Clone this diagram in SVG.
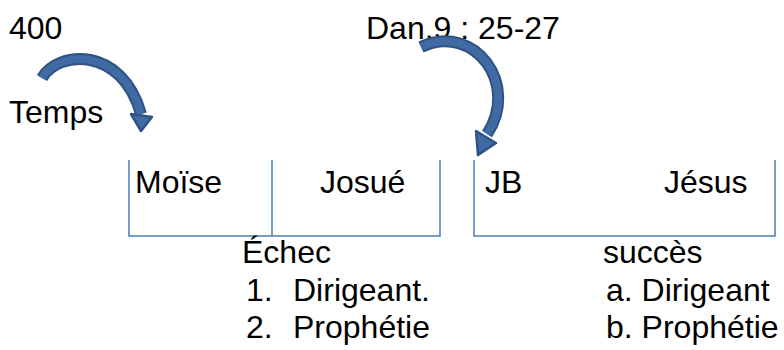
<svg xmlns="http://www.w3.org/2000/svg" width="784" height="350" viewBox="0 0 784 350">
<style>
text{font-family:"Liberation Sans",Arial,sans-serif;font-size:32px;fill:#000}
.br{fill:none;stroke:#4a7ebb;stroke-width:1.5}
.ao{fill:none;stroke:#2f5283;stroke-width:12}
.ai{fill:none;stroke:#3f6aa3;stroke-width:8}
.ah{fill:#3f6aa3;stroke:#2f5283;stroke-width:2.5;stroke-linejoin:round}
</style>
<rect width="784" height="350" fill="#fff"/>
<g id="labels">
<text x="9" y="39">400</text>
<text x="366" y="39">Dan.9 : 25-27</text>
<text x="9" y="123">Temps</text>
</g>
<g id="connectors">
<path class="ao" d="M42 78 C58 50 122 46 141 114"/>
<path class="ai" d="M42 78 C58 50 122 46 141 114"/>
<polygon class="ah" points="131,114 152,117 141,131"/>
<path class="ao" d="M421 47 C475 22 520 85 487 134"/>
<path class="ai" d="M421 47 C475 22 520 85 487 134"/>
<polygon class="ah" points="476,131 496,143 478,155"/>
</g>
<g id="group1">
<path class="br" d="M129 160 V236 H440 V160 M272 160 V236"/>
<text x="135" y="193">Moïse</text>
<text x="320" y="193">Josué</text>
</g>
<g id="group2">
<path class="br" d="M474 160 V236 H775 V160"/>
<text x="485" y="193">JB</text>
<text x="664" y="193">Jésus</text>
</g>
<g id="echec">
<text x="242" y="263">Échec</text>
<text x="246" y="301">1.</text>
<text x="293" y="301">Dirigeant.</text>
<text x="246" y="338">2.</text>
<text x="293" y="338">Prophétie</text>
</g>
<g id="succes">
<text x="603" y="263">succès</text>
<text x="606" y="301">a. Dirigeant</text>
<text x="606" y="338">b. Prophétie</text>
</g>
</svg>
